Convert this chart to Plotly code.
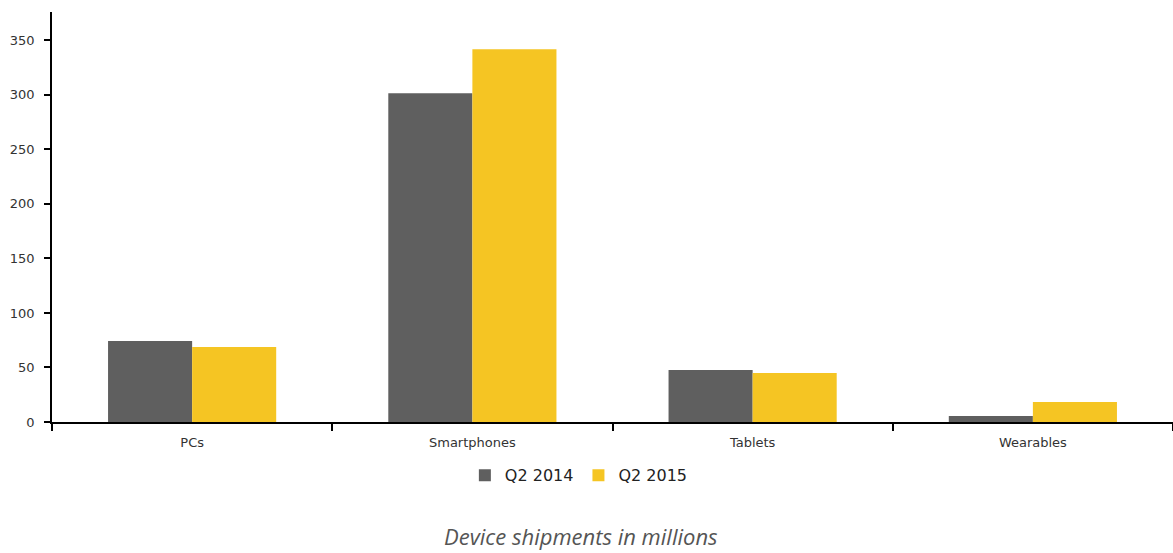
import plotly.graph_objects as go

categories = ["PCs", "Smartphones", "Tablets", "Wearables"]
q2_2014 = [74.2, 301.6, 47.6, 5.5]
q2_2015 = [68.8, 341.8, 44.9, 18.3]
series_names = ["Q2 2014", "Q2 2015"]
colors = ["#5f5f5f", "#f5c523"]
y_ticks = [0, 50, 100, 150, 200, 250, 300, 350]

fig = go.Figure()
for name, vals, col in zip(series_names, [q2_2014, q2_2015], colors):
    fig.add_trace(go.Bar(x=categories, y=vals, name=name, marker=dict(color=col, line=dict(width=0))))

fig.update_layout(
    width=1173, height=553,
    margin=dict(l=52, r=0, t=12, b=131),
    paper_bgcolor="white", plot_bgcolor="white",
    barmode="group", bargap=0.4, bargroupgap=0,
    font=dict(family="DejaVu Sans", size=12, color="#333"),
    showlegend=True,
    legend=dict(orientation="h", x=0.47, xanchor="center", y=-0.13, yanchor="middle",
                font=dict(family="DejaVu Sans", size=16, color="#222"), itemclick=False),
    xaxis=dict(showline=True, linecolor="#000", linewidth=1.5, ticks="outside",
               tickson="boundaries", ticklen=7, tickcolor="#000", tickwidth=1.5,
               ticklabelstandoff=8,
               tickfont=dict(size=13, color="#333"), showgrid=False, zeroline=False),
    yaxis=dict(range=[0, 376], tickvals=y_ticks, showline=True, linecolor="#000", linewidth=1.5,
               ticks="outside", ticklen=6, tickcolor="#000", tickwidth=1.5,
               ticklabelstandoff=7,
               tickfont=dict(size=13, color="#333"), showgrid=False, zeroline=False),
    annotations=[dict(text="<i>Device shipments in millions</i>", xref="paper", yref="paper",
                      x=0.472, y=-0.278, xanchor="center", yanchor="middle", showarrow=False,
                      font=dict(family="Open Sans", size=22, color="#555"))],
)

fig.write_html("out.html")
